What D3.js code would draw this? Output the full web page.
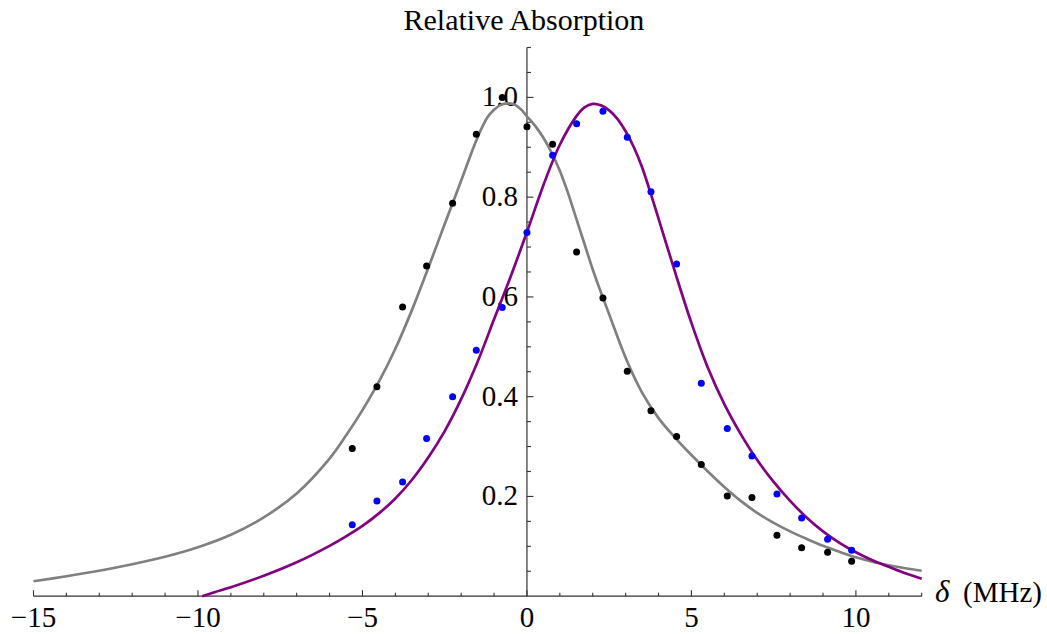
<!DOCTYPE html>
<html>
<head>
<meta charset="utf-8">
<script src="https://cdn.jsdelivr.net/npm/d3@7/dist/d3.min.js"></script>
<style>
  html, body { margin: 0; padding: 0; background: #fff; }
  svg text { font-family: "Liberation Serif", "Times New Roman", serif; fill: #000; }
</style>
</head>
<body>
<svg id="chart" width="1047" height="634"></svg>
<script>
// Measured absorption, probe detuning δ (MHz)
const detuningA = [-5.31, -4.56, -3.78, -3.05, -2.26, -1.54, -0.75, 0, 0.78, 1.51, 2.31,
                   3.05, 3.77, 4.55, 5.30, 6.09, 6.84, 7.60, 8.35, 9.14, 9.87];
const absorptionBlack = [0.296, 0.420, 0.580, 0.662, 0.788, 0.926, 1.000, 0.941, 0.906, 0.690, 0.598,
                         0.451, 0.372, 0.320, 0.264, 0.201, 0.198, 0.122, 0.097, 0.088, 0.070];
const absorptionBlue = [0.143, 0.191, 0.229, 0.316, 0.400, 0.493, 0.579, 0.729, 0.884, 0.947, 0.972,
                        0.920, 0.811, 0.666, 0.427, 0.336, 0.281, 0.205, 0.157, 0.114, 0.092];

// Fitted line shapes (sampled)
const fitGrayX = [-15, -14, -13, -12, -11, -10, -9, -8, -7, -6, -5.5, -5, -4.5, -4, -3.5, -3, -2.5, -2,
                  -1.5, -1.2, -1, -0.8, -0.6, -0.4, -0.2, 0, 0.25, 0.5, 0.75, 1, 1.25, 1.5, 1.75, 2,
                  2.25, 2.5, 3, 3.5, 4, 4.5, 5, 5.5, 6, 6.5, 7, 7.5, 8, 8.5, 9, 9.5, 10, 10.5, 11,
                  11.5, 12];
const fitGrayY = [0.030, 0.040, 0.051, 0.064, 0.079, 0.098, 0.123, 0.158, 0.206, 0.276, 0.322, 0.373,
                  0.430, 0.496, 0.573, 0.658, 0.746, 0.833, 0.920, 0.960, 0.975, 0.985, 0.988, 0.986,
                  0.977, 0.962, 0.943, 0.919, 0.889, 0.853, 0.808, 0.757, 0.706, 0.655, 0.609, 0.565,
                  0.478, 0.408, 0.357, 0.318, 0.283, 0.250, 0.219, 0.191, 0.167, 0.147, 0.130, 0.115,
                  0.101, 0.089, 0.078, 0.069, 0.062, 0.056, 0.051];
const fitPurpleX = [-9.87, -9.5, -9, -8, -7, -6, -5.5, -5, -4.5, -4, -3.5, -3, -2.5, -2, -1.5, -1, -0.5,
                    0, 0.5, 1, 1.5, 1.75, 2, 2.25, 2.5, 2.75, 3, 3.25, 3.5, 4, 4.5, 5, 5.5, 6, 6.5, 7,
                    7.5, 8, 8.5, 9, 9.5, 10, 10.5, 11, 11.5, 12];
const fitPurpleY = [0.000, 0.008, 0.018, 0.041, 0.068, 0.101, 0.120, 0.141, 0.166, 0.196, 0.233, 0.278,
                    0.331, 0.395, 0.470, 0.555, 0.640, 0.730, 0.824, 0.905, 0.962, 0.980, 0.987, 0.984,
                    0.974, 0.957, 0.932, 0.900, 0.860, 0.757, 0.650, 0.548, 0.458, 0.385, 0.325, 0.273,
                    0.229, 0.191, 0.158, 0.130, 0.107, 0.088, 0.072, 0.059, 0.046, 0.035];

const xMajor = [-15, -10, -5, 0, 5, 10];
const yMajor = [0.2, 0.4, 0.6, 0.8, 1.0];

const svg = d3.select("#chart");
const x = d3.scaleLinear().domain([-15, 12]).range([33.5, 921.7]);
const y = d3.scaleLinear().domain([0, 1.1]).range([596.2, 47.5]);
const x0 = x(0), y0 = y(0);
const axisColor = "#333";

// Axes through the origin
const axes = svg.append("g");
axes.append("line").attr("x1", x(-15)).attr("x2", x(12)).attr("y1", y0).attr("y2", y0)
  .attr("stroke", axisColor).attr("stroke-width", 1.2);
axes.append("line").attr("x1", x0).attr("x2", x0).attr("y1", y(0)).attr("y2", y(1.1))
  .attr("stroke", axisColor).attr("stroke-width", 1.2);

// x ticks (pointing up)
d3.range(-15, 13, 1).forEach(v => {
  const major = xMajor.includes(v);
  axes.append("line").attr("x1", x(v)).attr("x2", x(v))
    .attr("y1", y0).attr("y2", y0 - (major ? 6 : 3.5))
    .attr("stroke", axisColor).attr("stroke-width", 1.1);
});
// y ticks (pointing right)
d3.range(0.05, 1.1001, 0.05).forEach(v => {
  const major = yMajor.some(m => Math.abs(m - v) < 1e-6);
  axes.append("line").attr("x1", x0).attr("x2", x0 + (major ? 6.5 : 4))
    .attr("y1", y(v)).attr("y2", y(v))
    .attr("stroke", axisColor).attr("stroke-width", 1.1);
});

const fmtX = v => (v < 0 ? "\u2212" + Math.abs(v) : String(v));
axes.selectAll(".xl").data(xMajor).enter().append("text")
  .attr("x", d => x(d)).attr("y", 626.5)
  .attr("text-anchor", "middle").attr("font-size", 29)
  .text(fmtX);
axes.selectAll(".yl").data(yMajor).enter().append("text")
  .attr("x", x0 - 9).attr("y", d => y(d) + 9)
  .attr("text-anchor", "end").attr("font-size", 29)
  .text(d => d.toFixed(1));

// Axis labels
svg.append("text").attr("x", x0 - 3).attr("y", 29.5).attr("text-anchor", "middle")
  .attr("font-size", 30).text("Relative Absorption");
const xl = svg.append("text").attr("x", 935).attr("y", 602).attr("font-size", 29);
xl.append("tspan").attr("font-style", "italic").attr("font-size", 31).text("\u03B4");
xl.append("tspan").attr("x", 963).text("(MHz)");

// Fit curves
const line = d3.line().x(d => x(d[0])).y(d => y(d[1])).curve(d3.curveCatmullRom.alpha(0.5));
svg.append("path").datum(d3.zip(fitGrayX, fitGrayY)).attr("d", line)
  .attr("fill", "none").attr("stroke", "#808080").attr("stroke-width", 2.7);
svg.append("path").datum(d3.zip(fitPurpleX, fitPurpleY)).attr("d", line)
  .attr("fill", "none").attr("stroke", "#800080").attr("stroke-width", 2.7);

// Data points
svg.append("g").selectAll("circle").data(d3.zip(detuningA, absorptionBlack)).enter()
  .append("circle").attr("cx", d => x(d[0])).attr("cy", d => y(d[1])).attr("r", 3.5)
  .attr("fill", "#000");
svg.append("g").selectAll("circle").data(d3.zip(detuningA, absorptionBlue)).enter()
  .append("circle").attr("cx", d => x(d[0])).attr("cy", d => y(d[1])).attr("r", 3.5)
  .attr("fill", "#0000ff");
</script>
</body>
</html>
